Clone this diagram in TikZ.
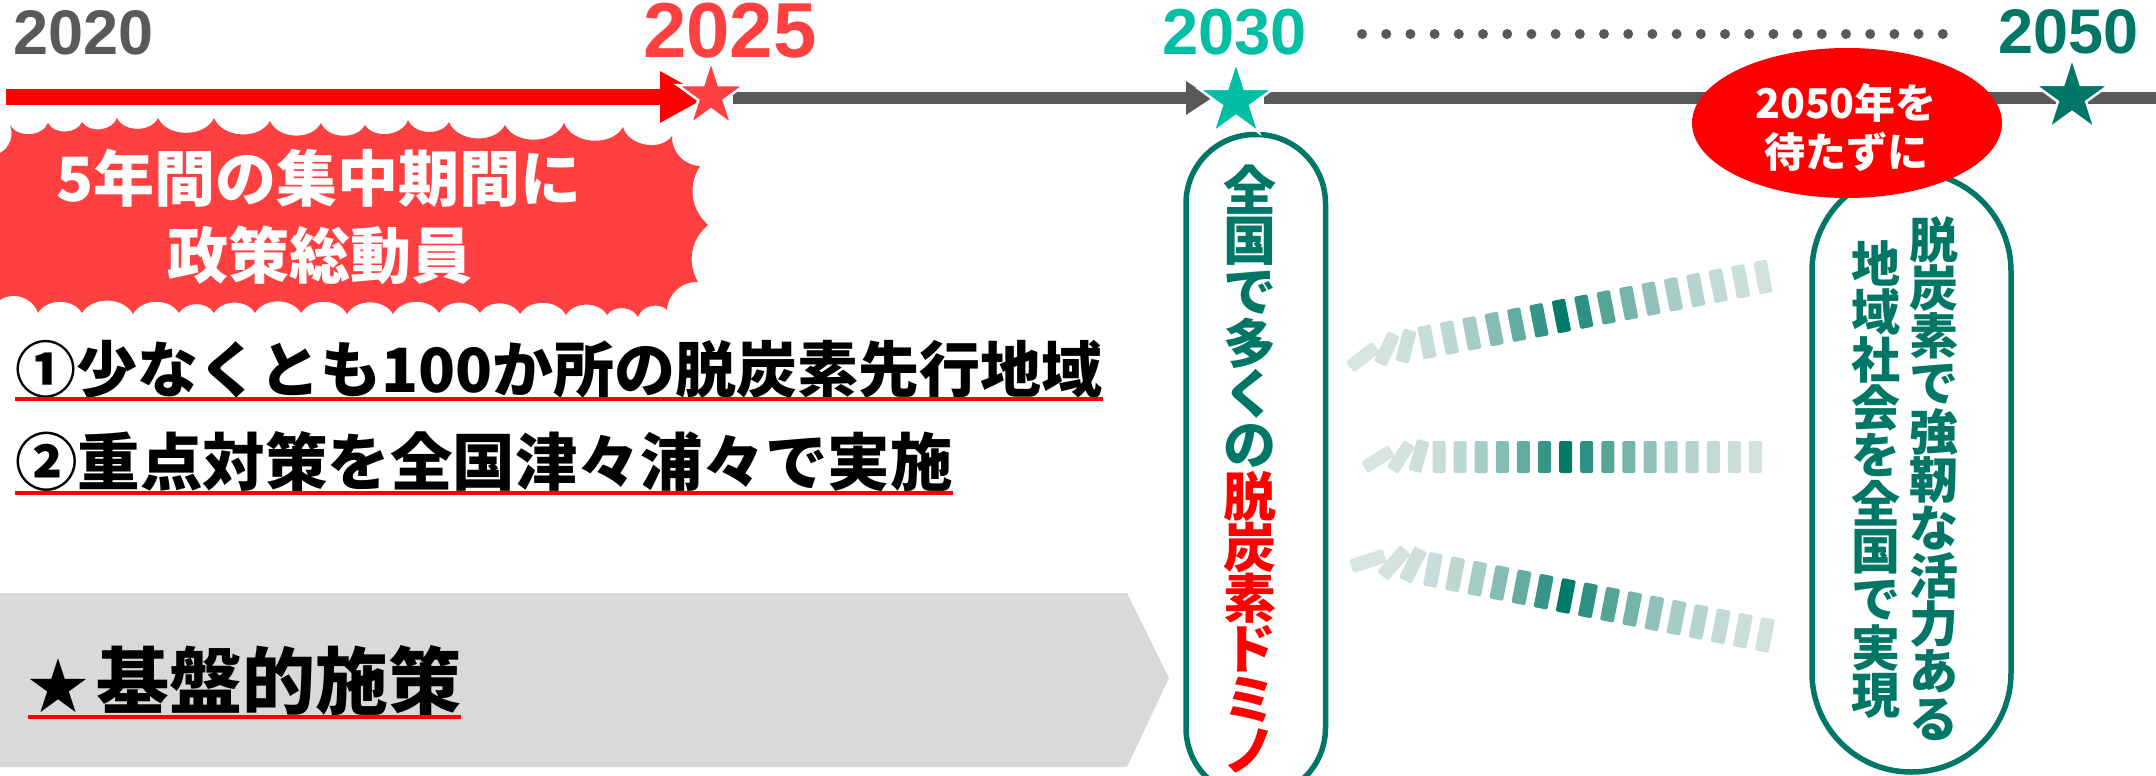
\documentclass[tikz,border=0pt]{standalone}
\usepackage{fontspec}
\newfontfamily\jpfont{Noto Sans CJK JP}
\newfontfamily\latfont{Liberation Sans}
\usetikzlibrary{shapes.geometric,arrows.meta}
\definecolor{tlgray}{RGB}{89,89,89}
\definecolor{redA}{RGB}{255,64,64}
\definecolor{tealA}{RGB}{0,191,165}
\definecolor{tealB}{RGB}{0,119,102}
\definecolor{chevgray}{RGB}{217,217,217}
\definecolor{domL}{RGB}{222,232,229}
\definecolor{domD}{RGB}{0,122,105}
\definecolor{pureRed}{RGB}{255,0,0}
\tikzset{
  year/.style={inner sep=0pt, anchor=base west, font=\latfont\bfseries\fontsize{#1}{#1}\selectfont},
  jp/.style={inner sep=0pt, font=\jpfont\bfseries\fontsize{#1}{#1}\selectfont},
  uline/.style={draw=pureRed, line width=4pt},
  tl/.style={draw=tlgray, line width=11pt},
  domino/.style={rectangle, rounded corners=2pt, minimum width=13.5pt, minimum height=33pt, inner sep=0pt},
  starmark/.style={star, star points=5, star point ratio=2.618, inner sep=0pt, draw=white, line width=2.5pt},
  boxline/.style={draw=tealB, line width=5.5pt},
  vchar/.style={jp=#1, anchor=center},
}
\begin{document}
\begin{tikzpicture}[x=1pt,y=-1pt]
\useasboundingbox (0,0) rectangle (2156,776);
\clip (0,0) rectangle (2156,776);

% gray chevron
\fill[chevgray] (0,593) -- (1127,593) -- (1169,678) -- (1127,767) -- (0,767) -- cycle;

% red cloud
\fill[redA] (0,153) to[bend right=40] (10,125)
  to[bend right=65] (48,123) to[bend right=65] (82,122) to[bend right=65] (117,118)
  to[bend right=65] (158,118) to[bend right=65] (214,118) to[bend right=65] (270,121)
  to[bend right=65] (321,123) to[bend right=65] (365,125) to[bend right=65] (408,120)
  to[bend right=65] (449,122) to[bend right=65] (505,125) to[bend right=65] (564,123)
  to[bend right=65] (623,127) to[bend right=65] (672,136)
  to[bend right=45] (700,166) to[bend right=40] (708,225) to[bend right=40] (698,282)
  to[bend right=45] (667,310)
  to[bend right=60] (638,317) to[bend right=60] (607,315) to[bend right=60] (566,315)
  to[bend right=60] (520,314) to[bend right=60] (480,313) to[bend right=60] (439,313)
  to[bend right=60] (393,314) to[bend right=60] (347,314) to[bend right=60] (301,313)
  to[bend right=60] (255,313) to[bend right=60] (214,313) to[bend right=60] (179,313)
  to[bend right=60] (133,314) to[bend right=60] (82,313) to[bend right=60] (38,313)
  to[bend right=55] (0,300) -- cycle;
\node[jp=61, anchor=base, text=white] (cl1) at (319,201) {5年間の集中期間に};
\node[jp=61, anchor=base, text=white] (cl2) at (320,278) {政策総動員};

% black lines
\node[jp=61, anchor=base west] (t1) at (15,392) {①少なくとも100か所の脱炭素先行地域};
\draw[uline] ([yshift=-7pt]t1.base west) -- ([yshift=-7pt]t1.base east);
\node[jp=62.5, anchor=base west] (t2) at (15,485) {②重点対策を全国津々浦々で実施};
\draw[uline] ([yshift=-8pt]t2.base west) -- ([yshift=-8pt]t2.base east);
\node[jp=73, anchor=base west] (t3) at (28,708) {{\fontsize{60}{60}\selectfont ★}\hspace{8pt}基盤的施策};
\draw[uline] ([yshift=-9pt]t3.base west) -- ([yshift=-9pt]t3.base east);

% timeline
\coordinate (rs) at (6,97);
\coordinate (re) at (708,97);
\draw[draw=pureRed, line width=16pt, -{Triangle[length=48pt,width=48pt]}] (rs) -- (re);
\coordinate (g1) at (733,98);
\coordinate (g2) at (1212,98);
\coordinate (g3) at (1264,98);
\coordinate (g4) at (2160,98);
\draw[tl, -{Triangle[length=26pt,width=32pt]}] (g1) -- (g2);
\draw[tl] (g3) -- (g4);

% boxes
\draw[boxline, rounded corners=69pt] (1186,134.5) rectangle (1325.5,797);
\draw[boxline, rounded corners=99pt] (1812,172) rectangle (2011,772);

% ellipse
\node[ellipse, fill=pureRed, minimum width=310pt, minimum height=150pt, inner sep=0pt] (ell) at (1847,123) {};
\node[jp=41, anchor=base, text=white] (e1) at (1846,118) {2050年を};
\node[jp=41, anchor=base, text=white] (e2) at (1846,167) {待たずに};

% stars
\node[starmark, fill=redA, minimum size=70pt] (s25) at (711,96) {};
\node[starmark, fill=tealA, minimum size=78pt] (s30) at (1236,101) {};
\node[starmark, fill=tealB, minimum size=78pt] (s50) at (2072,97) {};

% year labels
\node[year=63, text=tlgray] (y20) at (13,55) {2020};
\node[year=78, text=redA] (y25) at (643,58) {2025};
\node[year=65, text=tealA] (y30) at (1162,55) {2030};
\node[year=63, text=tealB] (y50) at (1998,54) {2050};

% dotted span
\foreach \k in {0,...,24} \fill[tlgray] ({1362+24.2*\k},34) circle (5pt);

% dominoes row 1
\foreach \p/\q/\r/\d [count=\i] in {1363/357/-52/3, 1387/349/-25/5, 1406/346/-14/8}
  \node[domino, fill=domD!\d!domL, rotate=\r] (fa\i) at (\p,\q) {};
\foreach \d [count=\k from 0] in {10,15,25,40,55,75,100,80,62,47,35,25,18,13,9,6}
  \node[domino, fill=domD!\d!domL, rotate=11] (ua\k) at ({1427+22.4*\k},{342-4.33*\k}) {};
% row 2
\foreach \p/\q/\r/\d [count=\i] in {1378/459/-58/3, 1401/457/-33/5, 1419/456/-16/8}
  \node[domino, minimum width=13pt, minimum height=32pt, fill=domD!\d!domL, rotate=\r] (fb\i) at (\p,\q) {};
\foreach \d [count=\k from 0] in {10,15,25,40,55,75,100,80,62,47,35,25,18,13,9,6}
  \node[domino, minimum width=13pt, minimum height=32pt, fill=domD!\d!domL] (ub\k) at ({1439+21.1*\k},457) {};
% row 3
\foreach \p/\q/\r/\d [count=\i] in {1368/561/-72/3, 1394/563/-41/5, 1413/565/-27/8}
  \node[domino, minimum width=14pt, minimum height=35pt, fill=domD!\d!domL, rotate=\r] (fc\i) at (\p,\q) {};
\foreach \d [count=\k from 0] in {10,15,25,40,55,75,100,80,62,47,35,25,18,13,9,6}
  \node[domino, minimum width=14pt, minimum height=34pt, fill=domD!\d!domL, rotate=-11] (uc\k) at ({1433+22.13*\k},{570+4.33*\k}) {};

% vertical text, 2030 box
\foreach \c [count=\k from 0] in {全,国,で,多,く,の}
  \node[vchar=53, text=tealB] (va\k) at (1250,{190+51*\k}) {\vphantom{国}\c};
\foreach \c [count=\k from 6] in {脱,炭,素,ド,ミ,ノ}
  \node[vchar=53, text=pureRed] (va\k) at (1250,{190+51*\k}) {\vphantom{国}\c};

% vertical text, 2050 box
\foreach \c [count=\k from 0] in {脱,炭,素,で,強,靭,な,活,力,あ,る}
  \node[vchar=49, text=tealB] (vr\k) at (1934,{240+48*\k}) {\vphantom{国}\c};
\foreach \c [count=\k from 0] in {地,域,社,会,を,全,国,で,実,現}
  \node[vchar=49, text=tealB] (vl\k) at (1876,{264+48*\k}) {\vphantom{国}\c};
\end{tikzpicture}
\end{document}
